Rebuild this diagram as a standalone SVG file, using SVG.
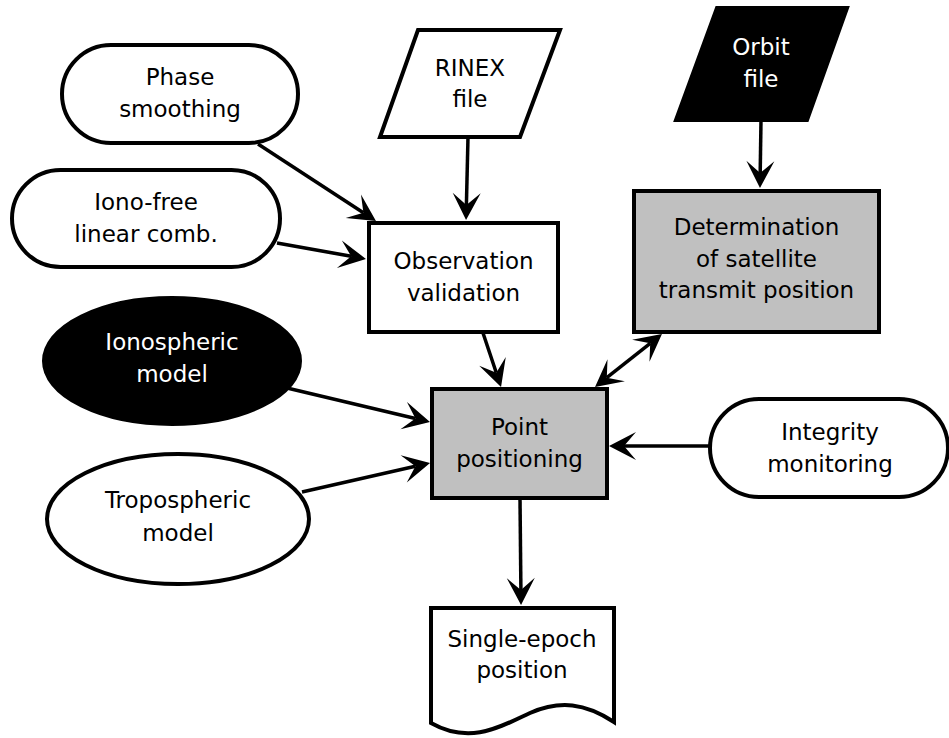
<svg xmlns="http://www.w3.org/2000/svg" width="949" height="738" viewBox="0 0 949 738">
  <style>
    .shape { stroke: #000; stroke-width: 4; stroke-linejoin: miter; }
    .light { fill: #fff; }
    .grey { fill: #c0c0c0; }
    .dark { fill: #000; }
    .label { font-family: "DejaVu Sans", "Liberation Sans", sans-serif; font-size: 23px; text-anchor: middle; fill: #000; }
    .label.inv { fill: #fff; }
    .edge { fill: none; stroke: #000; stroke-width: 3.5; }
  </style>
  <defs>
    <!-- concave dart head; reference point sits in the notch, tip 15px ahead -->
    <marker id="head" markerUnits="userSpaceOnUse" viewBox="-14 -16 31 32" markerWidth="31" markerHeight="32" refX="0" refY="0" orient="auto-start-reverse" overflow="visible">
      <path d="M15,0 L-12,-14 L0,0 L-12,14 Z" fill="#000"/>
    </marker>
  </defs>

  <g id="connectors">
    <path class="edge" d="M258,144 L363.4,212.8" marker-end="url(#head)"/>
    <path class="edge" d="M277,243 L351.2,256.3" marker-end="url(#head)"/>
    <path class="edge" d="M468,137 L466.4,205" marker-end="url(#head)"/>
    <path class="edge" d="M761,120 L760.2,173" marker-end="url(#head)"/>
    <path class="edge" d="M483,333 L496.3,372.8" marker-end="url(#head)"/>
    <path class="edge" d="M650.2,343.3 L606.8,377.7" marker-start="url(#head)" marker-end="url(#head)"/>
    <path class="edge" d="M287,388 L415.4,418.5" marker-end="url(#head)"/>
    <path class="edge" d="M302,492 L415.4,466.3" marker-end="url(#head)"/>
    <path class="edge" d="M710,446 L624,446" marker-end="url(#head)"/>
    <path class="edge" d="M520,498 L520.9,590" marker-end="url(#head)"/>
  </g>

  <g id="phase-smoothing">
    <rect class="shape light" x="62" y="45" width="236" height="98" rx="49" ry="49"/>
    <text class="label" x="180" y="85">Phase</text>
    <text class="label" x="180" y="117">smoothing</text>
  </g>

  <g id="iono-free">
    <rect class="shape light" x="12" y="170" width="268" height="97" rx="48.5" ry="48.5"/>
    <text class="label" x="146" y="209.5">Iono-free</text>
    <text class="label" x="146" y="241.5">linear comb.</text>
  </g>

  <g id="rinex-file">
    <path class="shape light" d="M418,30 L560,30 L520,137 L380,137 Z"/>
    <text class="label" x="470" y="76">RINEX</text>
    <text class="label" x="470" y="107">file</text>
  </g>

  <g id="orbit-file">
    <path class="shape dark" d="M717,8 L847,8 L807,120 L676,120 Z"/>
    <text class="label inv" x="761" y="55">Orbit</text>
    <text class="label inv" x="761" y="87">file</text>
  </g>

  <g id="observation-validation">
    <rect class="shape light" x="369" y="223" width="189" height="109"/>
    <text class="label" x="463.5" y="268.5">Observation</text>
    <text class="label" x="463.5" y="300.5">validation</text>
  </g>

  <g id="satellite-position">
    <rect class="shape grey" x="634" y="191" width="245" height="141"/>
    <text class="label" x="756.5" y="235">Determination</text>
    <text class="label" x="756.5" y="267">of satellite</text>
    <text class="label" x="756.5" y="298">transmit position</text>
  </g>

  <g id="ionospheric-model">
    <ellipse class="shape dark" cx="172" cy="361" rx="128" ry="63"/>
    <text class="label inv" x="172" y="350">Ionospheric</text>
    <text class="label inv" x="172" y="382">model</text>
  </g>

  <g id="tropospheric-model">
    <ellipse class="shape light" cx="178" cy="519" rx="131" ry="65"/>
    <text class="label" x="178" y="508">Tropospheric</text>
    <text class="label" x="178" y="541">model</text>
  </g>

  <g id="point-positioning">
    <rect class="shape grey" x="432" y="389" width="175" height="109"/>
    <text class="label" x="519.5" y="434.5">Point</text>
    <text class="label" x="519.5" y="466.5">positioning</text>
  </g>

  <g id="integrity-monitoring">
    <rect class="shape light" x="710" y="399" width="238" height="98" rx="49" ry="49"/>
    <text class="label" x="830" y="440">Integrity</text>
    <text class="label" x="830" y="472">monitoring</text>
  </g>

  <g id="single-epoch-position">
    <path class="shape light" d="M431,608 L614,608 L614,722 C585,703 560,700 530,713 C500,727 470,745 431,723 Z"/>
    <text class="label" x="522" y="647">Single-epoch</text>
    <text class="label" x="522" y="678">position</text>
  </g>
</svg>
